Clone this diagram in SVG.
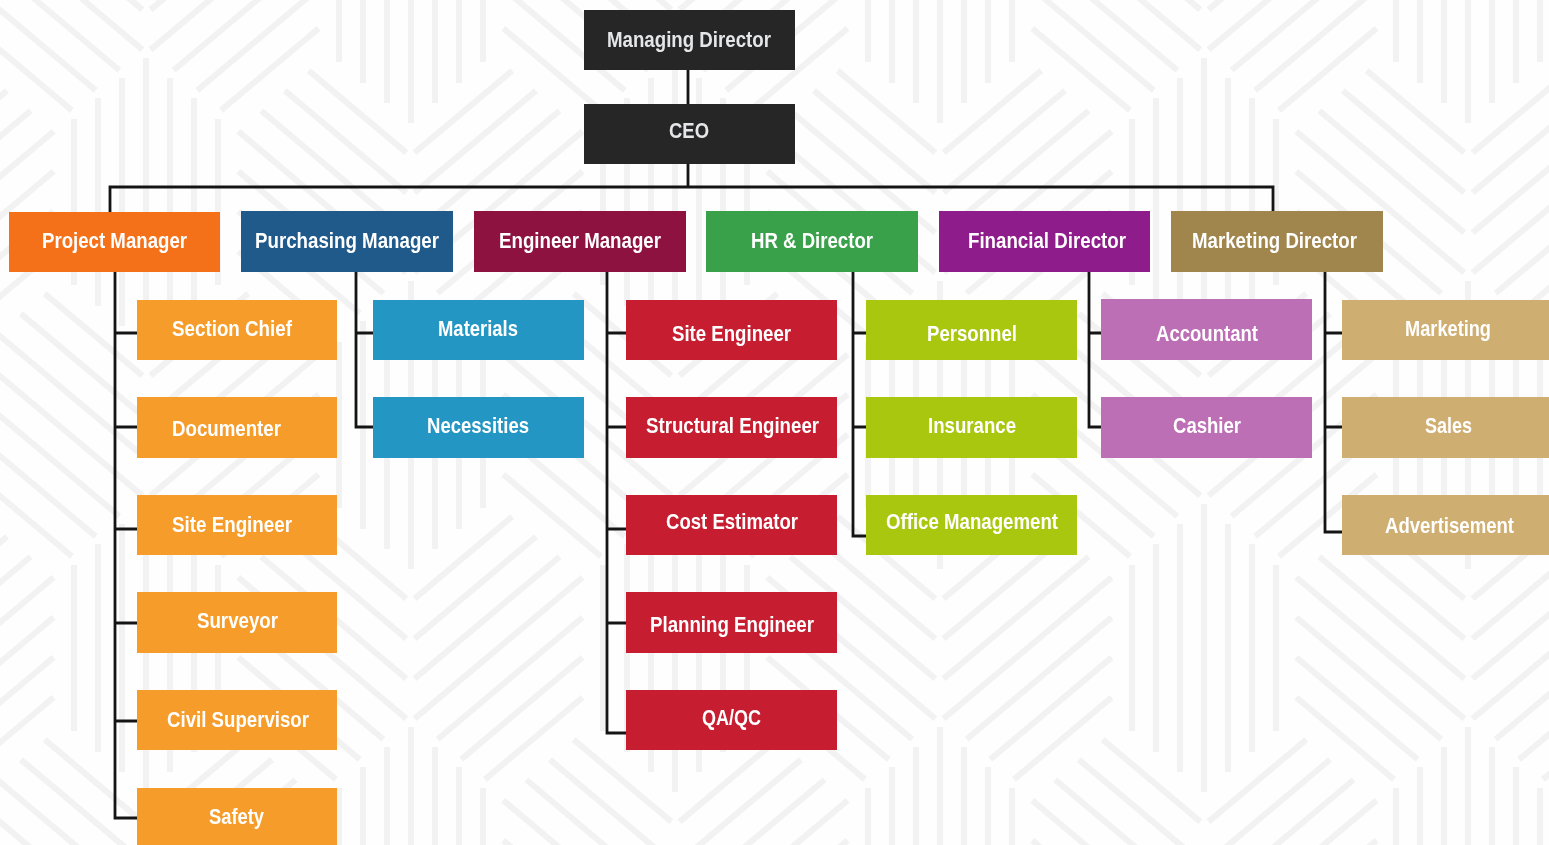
<svg xmlns="http://www.w3.org/2000/svg" width="1549" height="845" viewBox="0 0 1549 845">
<style>
.s{stroke:#f2f2f3;stroke-width:6;fill:none}
.c{stroke:#141414;stroke-width:2.8;fill:none;stroke-linejoin:miter}
text{font-family:"Liberation Sans",Arial,sans-serif;font-weight:700;font-size:22px;fill:#fff}
.d text{fill:#e4e6e8}
.t1{fill:#262627}.t2{fill:#f4711a}.t3{fill:#1f5a8b}.t4{fill:#8d1240}.t5{fill:#3aa14b}.t6{fill:#8e1c8b}.t7{fill:#a0854c}
.k1{fill:#f59c2a}.k2{fill:#2396c4}.k3{fill:#c61e30}.k4{fill:#a9c70f}.k5{fill:#bd6fb5}.k6{fill:#cfae72}
</style>
<defs>
<filter id="soft" x="0" y="0" width="1" height="1"><feGaussianBlur stdDeviation="0.7"/></filter>
<g id="v" class="s"><path d="M0-144V144M-24-124V124M24-124V124M-48-104V104M48-104V104M-72-83V83M72-83V83"/></g>
<g id="b" class="s"><path d="M-13.6-131.4L84-49.4M-37.4-111.4L84-9.4M-61-91.2L84 30.6M-84-70.6L84 70.6M-84-30.6L61 91.2M-84 9.4L37.4 111.4M-84 49.4L13.6 131.4"/></g>
<g id="f" class="s"><path d="M13.6-131.4L-84-49.4M37.4-111.4L-84-9.4M61-91.2L-84 30.6M84-70.6L-84 70.6M84-30.6L-61 91.2M84 9.4L-37.4 111.4M84 49.4L-13.6 131.4"/></g>
<g id="cell"><use href="#v"/><use href="#b" x="176.3"/><use href="#f" x="352.6"/></g>
</defs>
<rect width="1549" height="845" fill="#fefefe"/>
<g id="background" filter="url(#soft)">
<use href="#cell" x="-118" y="-21"/><use href="#cell" x="411" y="-21"/><use href="#cell" x="940" y="-21"/><use href="#cell" x="1468" y="-21"/>
<use href="#cell" x="-383" y="202"/><use href="#cell" x="146" y="202"/><use href="#cell" x="675" y="202"/><use href="#cell" x="1204" y="202"/>
<use href="#cell" x="-118" y="425"/><use href="#cell" x="411" y="425"/><use href="#cell" x="940" y="425"/><use href="#cell" x="1468" y="425"/>
<use href="#cell" x="-383" y="648"/><use href="#cell" x="146" y="648"/><use href="#cell" x="675" y="648"/><use href="#cell" x="1204" y="648"/>
<use href="#cell" x="-118" y="871"/><use href="#cell" x="411" y="871"/><use href="#cell" x="940" y="871"/><use href="#cell" x="1468" y="871"/>
</g>
<g id="connectors" class="c">
<path d="M688 70V104M688 164V187M110 212V187H1273V212"/>
<path d="M115 272V818H137M115 333H137M115 427H137M115 529H137M115 623H137M115 721H137"/>
<path d="M356 272V427H373M356 333H373"/>
<path d="M607 272V733H626M607 333H626M607 427H626M607 529H626M607 623H626"/>
<path d="M853 272V536H866M853 333H866M853 427H866"/>
<path d="M1089 272V427H1101M1089 333H1101"/>
<path d="M1325 272V532H1342M1325 333H1342M1325 427H1342"/>
</g>
<g id="managing-director" class="d"><rect class="t1" x="584" y="10" width="211" height="60"/><text x="607" y="47" textLength="164" lengthAdjust="spacingAndGlyphs">Managing Director</text></g>
<g id="ceo" class="d"><rect class="t1" x="584" y="104" width="211" height="60"/><text x="669" y="138" textLength="40" lengthAdjust="spacingAndGlyphs">CEO</text></g>
<g id="project-manager"><rect class="t2" x="9" y="212" width="211" height="60"/><text x="42" y="248" textLength="145" lengthAdjust="spacingAndGlyphs">Project Manager</text></g>
<g id="purchasing-manager"><rect class="t3" x="241" y="211" width="212" height="61"/><text x="255" y="248" textLength="184" lengthAdjust="spacingAndGlyphs">Purchasing Manager</text></g>
<g id="engineer-manager"><rect class="t4" x="474" y="211" width="212" height="61"/><text x="499" y="248" textLength="162" lengthAdjust="spacingAndGlyphs">Engineer Manager</text></g>
<g id="hr-director"><rect class="t5" x="706" y="211" width="212" height="61"/><text x="751" y="248" textLength="122" lengthAdjust="spacingAndGlyphs">HR &amp; Director</text></g>
<g id="financial-director"><rect class="t6" x="939" y="211" width="211" height="61"/><text x="968" y="248" textLength="158" lengthAdjust="spacingAndGlyphs">Financial Director</text></g>
<g id="marketing-director"><rect class="t7" x="1171" y="211" width="212" height="61"/><text x="1192" y="248" textLength="165" lengthAdjust="spacingAndGlyphs">Marketing Director</text></g>
<g id="section-chief"><rect class="k1" x="137" y="300" width="200" height="60"/><text x="172" y="336" textLength="120" lengthAdjust="spacingAndGlyphs">Section Chief</text></g>
<g id="documenter"><rect class="k1" x="137" y="397" width="200" height="61"/><text x="172" y="436" textLength="109" lengthAdjust="spacingAndGlyphs">Documenter</text></g>
<g id="site-engineer-p"><rect class="k1" x="137" y="495" width="200" height="60"/><text x="172" y="532" textLength="120" lengthAdjust="spacingAndGlyphs">Site Engineer</text></g>
<g id="surveyor"><rect class="k1" x="137" y="592" width="200" height="61"/><text x="197" y="628" textLength="81" lengthAdjust="spacingAndGlyphs">Surveyor</text></g>
<g id="civil-supervisor"><rect class="k1" x="137" y="690" width="200" height="60"/><text x="167" y="727" textLength="142" lengthAdjust="spacingAndGlyphs">Civil Supervisor</text></g>
<g id="safety"><rect class="k1" x="137" y="788" width="200" height="61"/><text x="209" y="824" textLength="55" lengthAdjust="spacingAndGlyphs">Safety</text></g>
<g id="materials"><rect class="k2" x="373" y="300" width="211" height="60"/><text x="438" y="336" textLength="80" lengthAdjust="spacingAndGlyphs">Materials</text></g>
<g id="necessities"><rect class="k2" x="373" y="397" width="211" height="61"/><text x="427" y="433" textLength="102" lengthAdjust="spacingAndGlyphs">Necessities</text></g>
<g id="site-engineer"><rect class="k3" x="626" y="300" width="211" height="60"/><text x="672" y="341" textLength="119" lengthAdjust="spacingAndGlyphs">Site Engineer</text></g>
<g id="structural-engineer"><rect class="k3" x="626" y="397" width="211" height="61"/><text x="646" y="433" textLength="173" lengthAdjust="spacingAndGlyphs">Structural Engineer</text></g>
<g id="cost-estimator"><rect class="k3" x="626" y="495" width="211" height="60"/><text x="666" y="529" textLength="132" lengthAdjust="spacingAndGlyphs">Cost Estimator</text></g>
<g id="planning-engineer"><rect class="k3" x="626" y="592" width="211" height="61"/><text x="650" y="632" textLength="164" lengthAdjust="spacingAndGlyphs">Planning Engineer</text></g>
<g id="qa-qc"><rect class="k3" x="626" y="690" width="211" height="60"/><text x="702" y="725" textLength="59" lengthAdjust="spacingAndGlyphs">QA/QC</text></g>
<g id="personnel"><rect class="k4" x="866" y="300" width="211" height="60"/><text x="927" y="341" textLength="90" lengthAdjust="spacingAndGlyphs">Personnel</text></g>
<g id="insurance"><rect class="k4" x="866" y="397" width="211" height="61"/><text x="928" y="433" textLength="88" lengthAdjust="spacingAndGlyphs">Insurance</text></g>
<g id="office-management"><rect class="k4" x="866" y="495" width="211" height="60"/><text x="886" y="529" textLength="172" lengthAdjust="spacingAndGlyphs">Office Management</text></g>
<g id="accountant"><rect class="k5" x="1101" y="299" width="211" height="61"/><text x="1156" y="341" textLength="102" lengthAdjust="spacingAndGlyphs">Accountant</text></g>
<g id="cashier"><rect class="k5" x="1101" y="397" width="211" height="61"/><text x="1173" y="433" textLength="68" lengthAdjust="spacingAndGlyphs">Cashier</text></g>
<g id="marketing"><rect class="k6" x="1342" y="300" width="211" height="60"/><text x="1405" y="336" textLength="86" lengthAdjust="spacingAndGlyphs">Marketing</text></g>
<g id="sales"><rect class="k6" x="1342" y="397" width="211" height="61"/><text x="1425" y="433" textLength="47" lengthAdjust="spacingAndGlyphs">Sales</text></g>
<g id="advertisement"><rect class="k6" x="1342" y="495" width="211" height="60"/><text x="1385" y="533" textLength="129" lengthAdjust="spacingAndGlyphs">Advertisement</text></g>
</svg>
